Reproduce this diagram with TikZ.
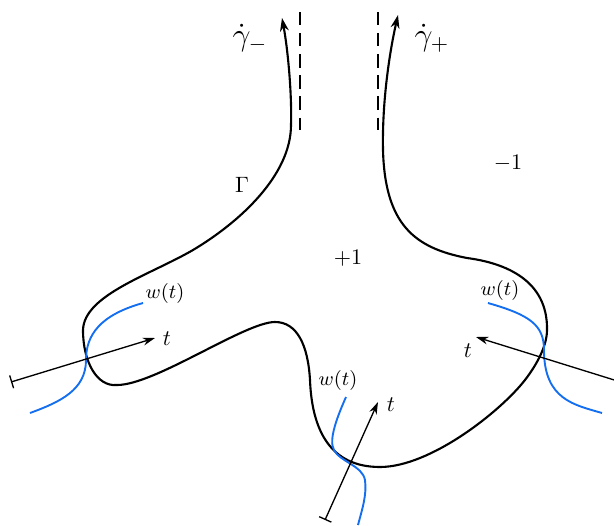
\documentclass[tikz,border=0pt]{standalone}
\usetikzlibrary{arrows.meta}
\begin{document}
\begin{tikzpicture}[x=0.45pt,y=-0.45pt,
  curve/.style={line width=0.95pt,line join=round},
  bluecurve/.style={line width=0.85pt,color={rgb,255:red,20;green,110;blue,240}},
  tarrow/.style={line width=0.6pt},
  lab/.style={inner sep=1pt},
  small/.style={inner sep=1pt,font=\small}]
\useasboundingbox (0,0) rectangle (614,525);
% dashed asymptotes
\coordinate (d1a) at (300,12); \coordinate (d1b) at (300,130);
\coordinate (d2a) at (378,12); \coordinate (d2b) at (378,130);
\draw[line width=0.8pt,dash pattern=on 6pt off 3.5pt] (d1a) -- (d1b);
\draw[line width=0.8pt,dash pattern=on 6pt off 3.5pt] (d2a) -- (d2b);
% main curve
\coordinate (A) at (282,18);
\coordinate (M) at (398,15);
\draw[curve,{Stealth[length=6pt,width=4pt]}-{Stealth[length=6pt,width=4pt]}]
 (A) .. controls (288,50) and (292,95) .. (291,125)
 .. controls (291,175) and (240,222) .. (193,250)
 .. controls (150,275) and (84,295) .. (83,330)
 .. controls (83,362) and (97,387) .. (117,385)
 .. controls (155,385) and (245,322) .. (275,322)
 .. controls (297,322) and (308,345) .. (310,380)
 .. controls (312,430) and (330,467) .. (380,467)
 .. controls (430,467) and (500,412) .. (525,380)
 .. controls (538,363) and (547,345) .. (547,330)
 .. controls (548,280) and (505,263) .. (467,258)
 .. controls (415,248) and (385,225) .. (383,150)
 .. controls (382,100) and (390,50) .. (M);
% blue curves
\draw[bluecurve] (143,303) .. controls (100,315) and (86,335) .. (86,360)
 .. controls (86,390) and (60,402) .. (30,413);
\draw[bluecurve] (346,397) .. controls (338,415) and (328,440) .. (334,450)
 .. controls (340,462) and (362,465) .. (365,480)
 .. controls (367,495) and (362,510) .. (358,525);
\draw[bluecurve] (488,303) .. controls (530,315) and (544,325) .. (544,350)
 .. controls (544,400) and (575,405) .. (602,413);
% t axes
\coordinate (t1s) at (11,382); \coordinate (t1e) at (155,338);
\coordinate (t2s) at (325,520); \coordinate (t2e) at (378,402);
\coordinate (t3s) at (640,388); \coordinate (t3e) at (476,337);
\draw[tarrow,{Bar[width=6pt]}-{Stealth[length=5.5pt,width=3.5pt]}] (t1s) -- (t1e);
\draw[tarrow,{Bar[width=6pt]}-{Stealth[length=5.5pt,width=3.5pt]}] (t2s) -- (t2e);
\draw[tarrow,{Bar[width=6pt]}-{Stealth[length=5.5pt,width=3.5pt]}] (t3s) -- (t3e);
% labels
\node[lab,font=\Large] (gm) at (250,38) {$\dot\gamma_-$};
\node[lab,font=\Large] (gp) at (432,38) {$\dot\gamma_+$};
\node[lab] (G) at (242,185) {$\Gamma$};
\node[lab] (pone) at (348,258) {$+1$};
\node[lab] (mone) at (508,163) {$-1$};
\node[small] (w1) at (165,293) {$w(t)$};
\node[small] (w2) at (338,380) {$w(t)$};
\node[small] (w3) at (500,290) {$w(t)$};
\node[lab] (tl1) at (167,339) {$t$};
\node[lab] (tl2) at (391,405) {$t$};
\node[lab] (tl3) at (468,351) {$t$};
\end{tikzpicture}
\end{document}
